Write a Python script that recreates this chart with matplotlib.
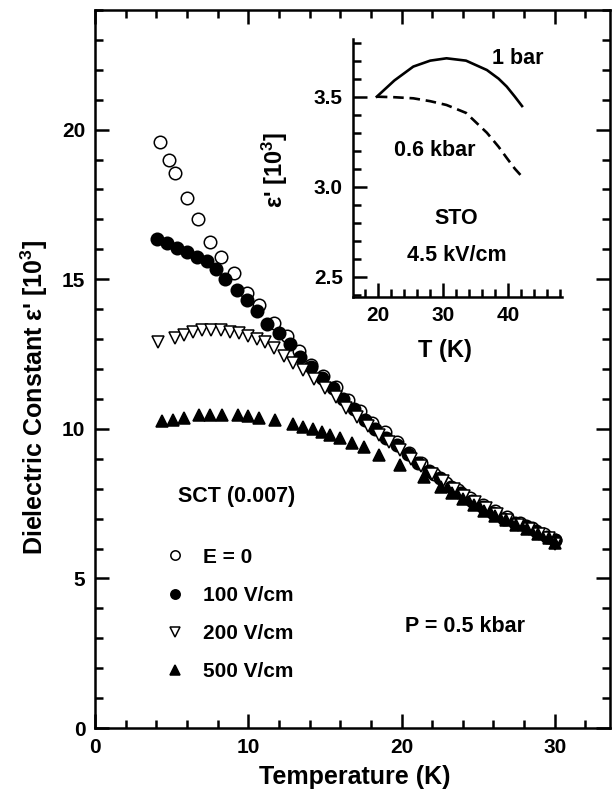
import matplotlib
matplotlib.use("Agg")
import matplotlib.pyplot as plt
from matplotlib.ticker import MultipleLocator

plt.rcParams["font.family"] = ["Liberation Sans", "DejaVu Sans"]
plt.rcParams["font.weight"] = "bold"
plt.rcParams["mathtext.fontset"] = "custom"
plt.rcParams["mathtext.rm"] = "Liberation Sans:bold"
plt.rcParams["mathtext.default"] = "rm"

# SCT (0.007), P = 0.5 kbar -- dielectric constant [10^3] vs temperature [K]
t_e0 = [4.25, 4.8, 5.25, 6.0, 6.75, 7.5, 8.25, 9.1, 9.95, 10.7, 11.65, 12.5,
        13.3, 14.1, 14.9, 15.7, 16.5, 17.3, 18.1, 18.9, 19.7, 20.5, 21.3, 22.1,
        22.9, 23.7, 24.5, 25.3, 26.1, 26.9, 27.7, 28.5, 29.3, 30.0]
eps_e0 = [19.6, 19.0, 18.55, 17.7, 17.0, 16.25, 15.75, 15.2, 14.55, 14.15, 13.55, 13.1,
          12.6, 12.15, 11.75, 11.4, 10.95, 10.6, 10.2, 9.9, 9.55, 9.2, 8.85, 8.5,
          8.2, 7.95, 7.7, 7.45, 7.25, 7.05, 6.85, 6.7, 6.5, 6.3]

t_100 = [4.05, 4.7, 5.35, 6.0, 6.65, 7.3, 7.9, 8.5, 9.25, 9.9, 10.55, 11.2, 12.0,
         12.7, 13.4, 14.1, 14.8, 15.5, 16.2, 16.9, 17.6, 18.3, 19.0, 19.7, 20.4,
         21.1, 21.8, 22.5, 23.2, 23.9, 24.6, 25.3, 26.0, 26.7, 27.4, 28.1, 28.8,
         29.5, 30.0]
eps_100 = [16.35, 16.2, 16.05, 15.9, 15.75, 15.6, 15.35, 15.0, 14.65, 14.3, 13.95, 13.5, 13.2,
           12.85, 12.4, 12.05, 11.7, 11.35, 11.0, 10.65, 10.3, 10.0, 9.7, 9.45, 9.15,
           8.85, 8.6, 8.35, 8.05, 7.85, 7.6, 7.4, 7.2, 7.0, 6.85, 6.75, 6.6,
           6.4, 6.3]

t_200 = [4.1, 5.2, 5.8, 6.4, 7.0, 7.6, 8.2, 8.8, 9.4, 10.0, 10.6, 11.1, 11.7,
         12.3, 12.9, 13.6, 14.3, 15.0, 15.7, 16.4, 17.1, 17.8, 18.5, 19.2, 19.9,
         20.6, 21.3, 22.0, 22.7, 23.4, 24.1, 24.8, 25.5, 26.2, 26.9, 27.6, 28.3,
         29.0, 29.6, 30.0]
eps_200 = [12.9, 13.05, 13.15, 13.25, 13.3, 13.3, 13.3, 13.25, 13.2, 13.1, 13.0, 12.9, 12.7,
           12.45, 12.2, 11.95, 11.65, 11.35, 11.05, 10.7, 10.4, 10.1, 9.8, 9.55, 9.3,
           9.0, 8.75, 8.5, 8.25, 8.0, 7.75, 7.55, 7.35, 7.15, 6.95, 6.8, 6.65,
           6.5, 6.35, 6.15]

t_500 = [4.4, 5.1, 5.8, 6.8, 7.5, 8.3, 9.35, 10.0, 10.7, 11.75, 12.95, 13.6, 14.25,
         14.8, 15.35, 16.0, 16.8, 17.55, 18.5, 19.9, 21.45, 22.55, 23.3, 24.0, 24.7,
         25.4, 26.1, 26.8, 27.5, 28.2, 28.9, 29.6, 30.0]
eps_500 = [10.25, 10.3, 10.35, 10.45, 10.47, 10.47, 10.47, 10.42, 10.36, 10.28, 10.15, 10.07, 9.98,
           9.9, 9.8, 9.69, 9.52, 9.4, 9.13, 8.8, 8.4, 8.07, 7.85, 7.65, 7.45,
           7.27, 7.1, 6.95, 6.8, 6.65, 6.5, 6.35, 6.2]

# inset: STO, 4.5 kV/cm
t_sto = [19.8, 22.5, 25.4, 28.0, 30.5, 33.5, 36.7, 38.5, 39.75, 41.0, 42.1]
eps_1bar = [3.5, 3.59, 3.667, 3.70, 3.713, 3.70, 3.648, 3.60, 3.556, 3.50, 3.448]
eps_06kbar = [3.5, 3.497, 3.491, 3.475, 3.454, 3.41, 3.30, 3.222, 3.16, 3.10, 3.056]

fig = plt.figure(figsize=(6.13, 7.98), dpi=100)
ax = fig.add_axes([0.155, 0.0877, 0.840, 0.8998])

mk = dict(linestyle="none", markersize=9, markeredgecolor="black", markeredgewidth=1.1)
ax.plot(t_e0, eps_e0, marker="o", markerfacecolor="white", label="E = 0", **mk)
ax.plot(t_100, eps_100, marker="o", markerfacecolor="black", label="100 V/cm", **mk)
ax.plot(t_200, eps_200, marker="v", markerfacecolor="white", label="200 V/cm", **mk)
ax.plot(t_500, eps_500, marker="^", markerfacecolor="black", label="500 V/cm", **mk)

ax.set_xlim(0, 33.6)
ax.set_ylim(0, 24.0)
ax.xaxis.set_major_locator(MultipleLocator(10))
ax.xaxis.set_minor_locator(MultipleLocator(2))
ax.yaxis.set_major_locator(MultipleLocator(5))
ax.yaxis.set_minor_locator(MultipleLocator(1))
ax.tick_params(which="both", direction="in", top=True, right=True, width=1.8,
               labelsize=15, pad=7)
ax.tick_params(which="major", length=10)
ax.tick_params(which="minor", length=6)
for s in ax.spines.values():
    s.set_linewidth(1.8)

ax.set_xlabel("Temperature (K)", fontsize=18, fontweight="bold")
ax.set_ylabel("Dielectric Constant ε' [10$^{3}$]", fontsize=18, fontweight="bold")
ax.xaxis.set_label_coords(0.505, -0.052)
ax.yaxis.set_label_coords(-0.087, 0.46)

leg = ax.legend(loc="upper left", bbox_to_anchor=(0.131, 0.251), frameon=False,
                fontsize=15, handlelength=1.2, handletextpad=0.75, labelspacing=0.92,
                markerscale=0.75, borderpad=0, borderaxespad=0)

ax.text(5.42, 7.73, "SCT (0.007)", fontsize=15.5, fontweight="bold", ha="left", va="center")
ax.text(20.2, 3.38, "P = 0.5 kbar", fontsize=15.5, fontweight="bold", ha="left", va="center")

# inset
ins = fig.add_axes([0.5754, 0.6282, 0.341, 0.3229])
ins.plot(t_sto, eps_1bar, color="black", linewidth=1.9)
ins.plot(t_sto, eps_06kbar, color="black", linewidth=1.9, dashes=(4, 2.2))
ins.set_xlim(16.1, 48.2)
ins.set_ylim(2.39, 3.82)
ins.xaxis.set_major_locator(MultipleLocator(10))
ins.xaxis.set_minor_locator(MultipleLocator(2))
ins.yaxis.set_major_locator(MultipleLocator(0.5))
ins.yaxis.set_minor_locator(MultipleLocator(0.1))
ins.spines["top"].set_visible(False)
ins.spines["right"].set_visible(False)
for s in ("left", "bottom"):
    ins.spines[s].set_linewidth(1.8)
ins.tick_params(which="both", direction="in", width=1.8, labelsize=15, pad=7)
ins.tick_params(which="major", length=10)
ins.tick_params(which="minor", length=6)
ins.patch.set_alpha(0)
ins.set_xlabel("T (K)", fontsize=17, fontweight="bold")
ins.set_ylabel("ε' [10$^{3}$]", fontsize=17, fontweight="bold")
ins.xaxis.set_label_coords(0.44, -0.165)
ins.yaxis.set_label_coords(-0.30, 0.49)

ins.text(37.45, 3.713, "1 bar", fontsize=15.5, fontweight="bold", ha="left", va="center")
ins.text(28.7, 3.204, "0.6 kbar", fontsize=15.5, fontweight="bold", ha="center", va="center")
ins.text(32.06, 2.824, "STO", fontsize=15.5, fontweight="bold", ha="center", va="center")
ins.text(32.06, 2.62, "4.5 kV/cm", fontsize=15.5, fontweight="bold", ha="center", va="center")

fig.savefig("out.png", dpi=100)
